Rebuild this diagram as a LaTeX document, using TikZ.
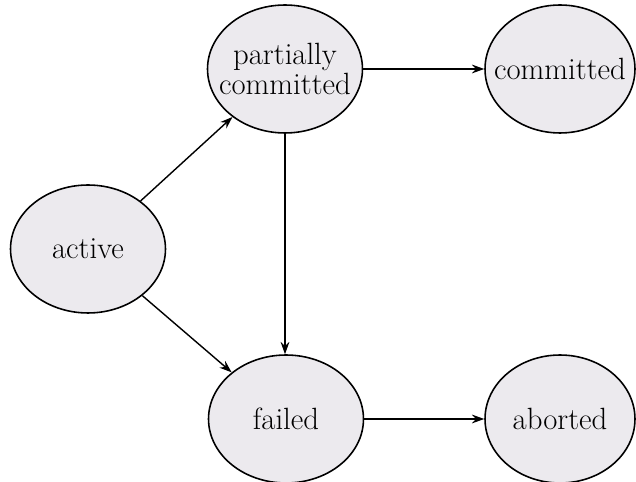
\documentclass[tikz,border=0pt]{standalone}
\usepackage{tikz}
\usetikzlibrary{arrows, arrows.meta}
\usetikzlibrary{shapes.geometric, positioning}
\usepackage{xcolor}

\definecolor{stategray}{RGB}{236,234,238}

\begin{document}
\begin{tikzpicture}[x=0.02cm, y=-0.02cm,
        statenode/.style={ellipse, draw=black, fill=stategray, line width=0.9pt, minimum width=3.1cm, minimum height=2.56cm, inner sep=0pt,
            label={[align=center, font=\fontsize{17.5}{15.5}\selectfont]center:#1}},
        trans/.style={->, >={Stealth[length=7pt, width=5pt]}, line width=0.8pt}]
        \useasboundingbox (0, 0) rectangle (636, 482);

        \node[statenode={active}] (active) at (88, 249) {};
        \node[statenode={partially\\committed}] (partial) at (285, 69) {};
        \node[statenode={committed}, minimum width=3cm] (committed) at (560, 69) {};
        \node[statenode={failed}] (failed) at (286, 419) {};
        \node[statenode={aborted}, minimum width=3cm] (aborted) at (560, 419) {};

        \draw[trans] (active) -- (partial);
        \draw[trans] (active) -- (failed);
        \draw[trans] (partial) -- (committed);
        \draw[trans] (partial) -- (partial |- failed.north);
        \draw[trans] (failed) -- (aborted);
      \end{tikzpicture}
\end{document}
